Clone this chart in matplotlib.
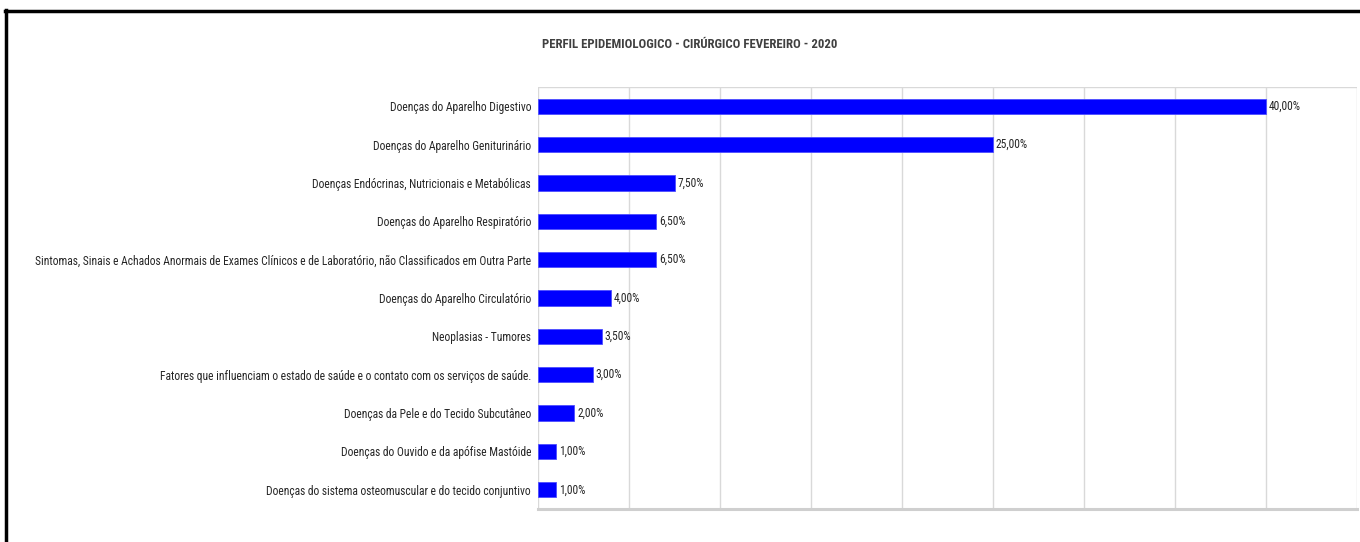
import matplotlib
matplotlib.use("Agg")
import matplotlib.pyplot as plt
from matplotlib import font_manager
from matplotlib.lines import Line2D

categories = [
    "Doenças do Aparelho Digestivo",
    "Doenças do Aparelho Geniturinário",
    "Doenças Endócrinas, Nutricionais e Metabólicas",
    "Doenças do Aparelho Respiratório",
    "Sintomas, Sinais e Achados Anormais de Exames Clínicos e de Laboratório, não Classificados em Outra Parte",
    "Doenças do Aparelho Circulatório",
    "Neoplasias - Tumores",
    "Fatores que influenciam o estado de saúde e o contato com os serviços de saúde.",
    "Doenças da Pele e do Tecido Subcutâneo",
    "Doenças do Ouvido e da apófise Mastóide",
    "Doenças do sistema osteomuscular e do tecido conjuntivo",
]
values = [40.0, 25.0, 7.5, 6.5, 6.5, 4.0, 3.5, 3.0, 2.0, 1.0, 1.0]
value_labels = ["40,00%", "25,00%", "7,50%", "6,50%", "6,50%", "4,00%",
                "3,50%", "3,00%", "2,00%", "1,00%", "1,00%"]
title = "PERFIL EPIDEMIOLOGICO - CIRÚRGICO FEVEREIRO - 2020"
grid_ticks = [0, 5, 10, 15, 20, 25, 30, 35, 40, 45]

names = {f.name for f in font_manager.fontManager.ttflist}
fam = None
for cand in ["Liberation Sans Narrow", "Roboto Condensed", "Open Sans Condensed", "Liberation Sans"]:
    if cand in names:
        fam = cand
        break
if fam is None:
    fam = "DejaVu Sans"
families = [fam, "DejaVu Sans"]

W, H = 1360, 542
fig = plt.figure(figsize=(W / 100, H / 100), dpi=100)
fig.patch.set_facecolor("white")

ax = fig.add_axes([538 / W, (H - 509) / H, (1357 - 538) / W, (509 - 87) / H])
y = list(range(len(categories)))
ax.barh(y, values, height=0.4, color="#0000FF", edgecolor="#4d4dff", linewidth=0.6, zorder=3)
ax.set_xlim(0, 45)
ax.set_ylim(len(categories) - 0.5, -0.5)
ax.set_xticks(grid_ticks)
ax.set_xticklabels([])
ax.tick_params(axis="x", length=0)
ax.tick_params(axis="y", length=0, pad=5)
ax.grid(axis="x", color="#d9d9d9", linewidth=1.0, zorder=0)
ax.set_yticks(y)
ax.set_yticklabels(categories, fontsize=8, color="#262626", family=families)
for s in ["left", "top", "right"]:
    ax.spines[s].set_visible(False)
ax.spines["bottom"].set_color("#cfcfcf")
ax.spines["bottom"].set_linewidth(2.2)
ax.axhline(-0.5, color="#d9d9d9", linewidth=1.0, zorder=1)

# fit label font so widest label spans ~499 px
fig.canvas.draw()
r = fig.canvas.get_renderer()
widest = max(t.get_window_extent(r).width for t in ax.get_yticklabels())
fs = 8 * 499.0 / widest
for t in ax.get_yticklabels():
    t.set_fontsize(fs)

texts = []
for yi, v, lab in zip(y, values, value_labels):
    texts.append(ax.annotate(lab, (v, yi), xytext=(2, 0), textcoords="offset points",
                             va="center", ha="left", fontsize=fs, color="#262626",
                             family=families, zorder=4))

tt = fig.text(690 / W, 1 - 44 / H, title, ha="center", va="center", fontsize=10,
              fontweight="bold", color="#404040", family=families)
fig.canvas.draw()
tw = tt.get_window_extent(r).width
tt.set_fontsize(10 * 294.0 / tw)

# outer black frame (left and top)
fig.add_artist(Line2D([6 / W, 6 / W], [0, 1 - 10 / H], transform=fig.transFigure,
                      color="black", linewidth=2.5))
fig.add_artist(Line2D([5 / W, 1], [1 - 11 / H, 1 - 11 / H], transform=fig.transFigure,
                      color="black", linewidth=2.5))

fig.savefig("out.png", dpi=100, facecolor="white")
